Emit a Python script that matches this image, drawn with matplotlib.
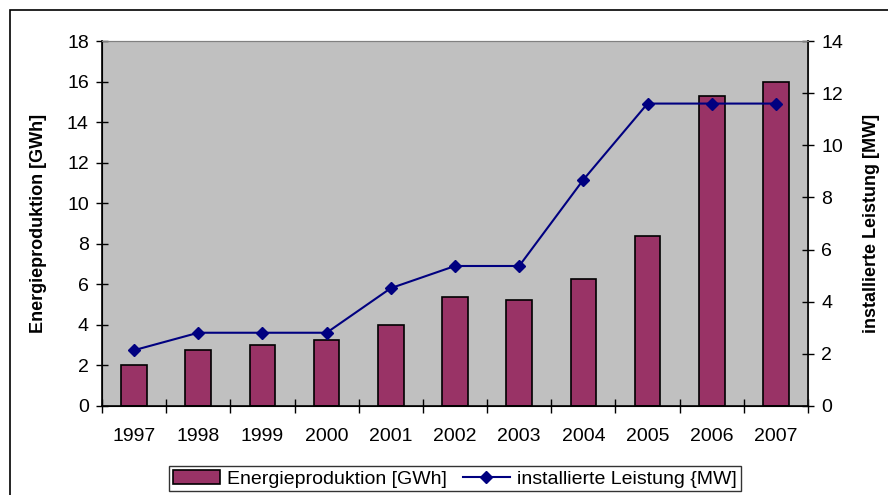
import matplotlib.pyplot as plt
import numpy as np
from matplotlib.patches import Rectangle
from matplotlib.lines import Line2D

plt.rcParams['font.family'] = ['Liberation Sans', 'DejaVu Sans']

years = ['1997', '1998', '1999', '2000', '2001', '2002', '2003', '2004', '2005', '2006', '2007']
energie_gwh = [2.0, 2.75, 3.0, 3.26, 4.0, 5.39, 5.23, 6.27, 8.39, 15.28, 15.96]
leistung_mw = [2.14, 2.81, 2.81, 2.81, 4.52, 5.37, 5.37, 8.68, 11.6, 11.6, 11.6]

fig = plt.figure(figsize=(8.88, 4.95), dpi=100)
W, H = 888, 495
ax = fig.add_axes([102 / W, 1 - 406 / H, (808 - 102) / W, (406 - 41) / H])
ax.set_facecolor('#C0C0C0')

# outer chart border (only left and top visible)
fig.add_artist(Rectangle((10 / W, -0.05), 1.0, 1 - 10 / H + 0.05, transform=fig.transFigure,
                         fill=False, edgecolor='black', linewidth=1.2))

x = np.arange(len(years))
ax.bar(x, energie_gwh, width=0.4, color='#993366', edgecolor='black', linewidth=1.2, zorder=2)
ax.set_xlim(-0.5, len(years) - 0.5)
ax.set_ylim(0, 18)
ax.set_yticks(range(0, 19, 2))
ax.set_xticks(x)
ax.set_xticklabels(years)
ax.set_xticks(np.arange(-0.5, len(years), 1), minor=True)
ax.tick_params(axis='x', which='major', length=0, pad=16, labelsize=14)
ax.tick_params(axis='x', which='minor', direction='inout', length=10, width=1)
ax.tick_params(axis='y', direction='inout', length=9, width=1, labelsize=14, pad=5)
ax.set_ylabel('Energieproduktion [GWh]', fontsize=13, fontweight='bold', labelpad=14)

for side in ['top', 'right']:
    ax.spines[side].set_color('#808080')
ax.spines['left'].set_linewidth(1.2)
ax.spines['bottom'].set_linewidth(1.2)

ax2 = ax.twinx()
ax2.plot(x, leistung_mw, color='#000080', marker='D', markersize=6, linewidth=1.5, zorder=3)
ax2.set_ylim(0, 14)
ax2.set_yticks(range(0, 15, 2))
ax2.tick_params(axis='y', direction='inout', length=9, width=1, labelsize=14, pad=5)
ax2.set_ylabel('installierte Leistung [MW]', fontsize=13, fontweight='bold',
               rotation=90, labelpad=14)
ax2.spines['right'].set_linewidth(1.2)
ax2.spines['top'].set_color('#808080')

handles = [Rectangle((0, 0), 1, 1, facecolor='#993366', edgecolor='black', linewidth=1.2),
           Line2D([], [], color='#000080', marker='D', markersize=6, linewidth=1.5)]
leg = fig.legend(handles, ['Energieproduktion [GWh]', 'installierte Leistung {MW]'],
                 loc='upper center', bbox_to_anchor=(455 / W, 1 - 466 / H), ncol=2,
                 fontsize=14, frameon=True, fancybox=False, borderpad=0.2,
                 handlelength=2.4, columnspacing=0.8, handletextpad=0.4,
                 borderaxespad=0)
leg.get_frame().set_edgecolor('black')
leg.get_frame().set_linewidth(1)

fig.savefig('out.png', dpi=100)
